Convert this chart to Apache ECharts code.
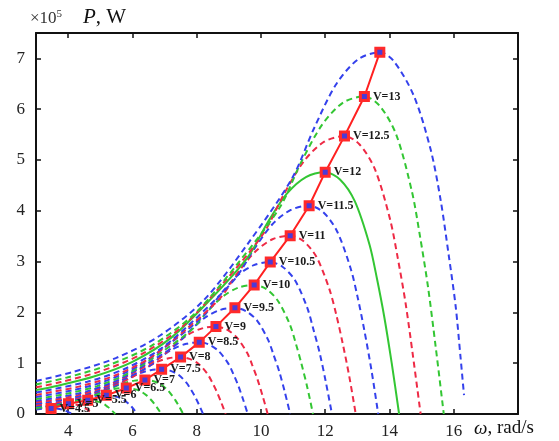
<!DOCTYPE html>
<html><head><meta charset="utf-8">
<script src="https://cdn.jsdelivr.net/npm/echarts@6/dist/echarts.min.js"></script>
<style>html,body{margin:0;padding:0;background:#fff}#c{width:559px;height:441px}</style>
</head><body><div id="c"></div>
<script>
// Wind speeds (m/s) of each power curve
const windSpeeds = [4.5, 5, 5.5, 6, 6.5, 7, 7.5, 8, 8.5, 9, 9.5, 10, 10.5, 11, 11.5, 12, 12.5, 13, 13.5];
// Maximum power points (red line): omega (rad/s) and P (x10^5 W)
const mpptOmega = [3.47, 4.01, 4.61, 5.19, 5.81, 6.39, 6.91, 7.50, 8.08, 8.60, 9.19, 9.79, 10.29, 10.91, 11.50, 12.00, 12.60, 13.22, 13.70];
const mpptPower = [0.11, 0.20, 0.27, 0.37, 0.51, 0.67, 0.88, 1.12, 1.41, 1.72, 2.09, 2.54, 2.99, 3.51, 4.10, 4.76, 5.47, 6.25, 7.12];
// Tick labels
const xTicks = [4, 6, 8, 10, 12, 14, 16];
const yTicks = [0, 1, 2, 3, 4, 5, 6, 7];

// Power curves [omega, P]
const curveV45 = [[3,0.09],[3.12,0.10],[3.30,0.108],[3.47,0.11],[3.60,0.107],[3.73,0.097],[3.86,0.077],[3.93,0.062],[3.99,0.044],[4.06,0.023],[4.12,0]];
const curveV5 = [[3,0.109],[3.21,0.13],[3.41,0.158],[3.61,0.182],[3.81,0.196],[4.01,0.20],[4.16,0.194],[4.31,0.176],[4.46,0.14],[4.54,0.112],[4.61,0.08],[4.69,0.042],[4.76,0]];
const curveV55 = [[3,0.106],[3.23,0.127],[3.46,0.149],[3.69,0.176],[3.92,0.213],[4.15,0.246],[4.38,0.265],[4.61,0.27],[4.78,0.262],[4.95,0.238],[5.13,0.189],[5.21,0.151],[5.30,0.108],[5.38,0.057],[5.47,0]];
const curveV6 = [[3,0.107],[3.11,0.117],[3.63,0.174],[4.15,0.24],[4.41,0.292],[4.67,0.337],[4.93,0.363],[5.19,0.37],[5.38,0.359],[5.58,0.326],[5.77,0.259],[5.87,0.207],[5.97,0.148],[6.06,0.078],[6.16,0]];
const curveV65 = [[3,0.117],[3.49,0.161],[4.07,0.24],[4.65,0.33],[4.94,0.40],[5.23,0.464],[5.52,0.50],[5.81,0.51],[6.03,0.495],[6.25,0.449],[6.46,0.357],[6.57,0.286],[6.68,0.204],[6.79,0.107],[6.90,0]];
const curveV7 = [[3,0.13],[3.20,0.145],[3.83,0.211],[4.47,0.315],[5.11,0.436],[5.43,0.529],[5.75,0.61],[6.07,0.657],[6.39,0.67],[6.63,0.65],[6.87,0.59],[7.10,0.469],[7.22,0.375],[7.34,0.268],[7.46,0.141],[7.58,0]];
const curveV75 = [[3,0.153],[3.46,0.19],[4.15,0.277],[4.84,0.414],[5.53,0.572],[5.87,0.695],[6.22,0.80],[6.56,0.862],[6.91,0.88],[7.17,0.854],[7.43,0.774],[7.68,0.616],[7.81,0.493],[7.94,0.352],[8.07,0.185],[8.20,0]];
const curveV8 = [[3,0.174],[3.75,0.242],[4.5,0.353],[5.25,0.526],[6.0,0.728],[6.38,0.885],[6.75,1.02],[7.13,1.098],[7.5,1.12],[7.78,1.086],[8.06,0.986],[8.34,0.784],[8.48,0.627],[8.62,0.448],[8.76,0.235],[8.90,0]];
const curveV85 = [[3,0.20],[3.23,0.219],[4.04,0.305],[4.85,0.444],[5.66,0.663],[6.46,0.917],[6.87,1.114],[7.27,1.283],[7.68,1.382],[8.08,1.41],[8.38,1.368],[8.68,1.241],[8.99,0.987],[9.14,0.79],[9.29,0.564],[9.44,0.296],[9.59,0]];
const curveV9 = [[3,0.232],[3.44,0.267],[4.30,0.372],[5.16,0.542],[6.02,0.808],[6.88,1.118],[7.31,1.359],[7.74,1.565],[8.17,1.686],[8.60,1.72],[8.92,1.668],[9.24,1.514],[9.57,1.204],[9.73,0.963],[9.89,0.688],[10.05,0.361],[10.21,0]];
const curveV95 = [[3,0.26],[3.68,0.324],[4.60,0.451],[5.51,0.658],[6.43,0.982],[7.35,1.359],[7.81,1.651],[8.27,1.902],[8.73,2.048],[9.19,2.09],[9.53,2.027],[9.88,1.839],[10.22,1.463],[10.39,1.17],[10.57,0.836],[10.74,0.439],[10.91,0]];
const curveV10 = [[3,0.297],[3.92,0.394],[4.90,0.549],[5.87,0.80],[6.85,1.194],[7.83,1.651],[8.32,2.007],[8.81,2.311],[9.30,2.489],[9.79,2.54],[10.16,2.464],[10.52,2.235],[10.89,1.778],[11.07,1.422],[11.25,1.016],[11.44,0.533],[11.62,0]];
const curveV105 = [[3,0.335],[4.12,0.463],[5.15,0.646],[6.17,0.942],[7.20,1.405],[8.23,1.944],[8.75,2.362],[9.26,2.721],[9.78,2.93],[10.29,2.99],[10.67,2.90],[11.06,2.631],[11.44,2.093],[11.63,1.674],[11.83,1.196],[12.02,0.628],[12.21,0]];
const curveV11 = [[3,0.376],[4.36,0.544],[5.46,0.758],[6.55,1.106],[7.64,1.65],[8.73,2.282],[9.27,2.773],[9.82,3.194],[10.36,3.44],[10.91,3.51],[11.32,3.405],[11.73,3.089],[12.13,2.457],[12.34,1.966],[12.54,1.404],[12.75,0.737],[12.95,0]];
const curveV115 = [[3,0.422],[4.60,0.636],[5.75,0.886],[6.90,1.292],[8.05,1.927],[9.20,2.665],[9.78,3.239],[10.35,3.731],[10.93,4.018],[11.50,4.10],[11.93,3.977],[12.36,3.608],[12.79,2.87],[13.01,2.296],[13.22,1.64],[13.44,0.861],[13.65,0]];
const curveV12 = [[3,0.471],[3.6,0.547],[4.8,0.738],[6.0,1.028],[7.2,1.499],[8.4,2.237],[9.6,3.094],[10.2,3.76],[10.8,4.332],[11.4,4.665],[12,4.76],[12.46,4.617],[12.92,4.189],[13.38,3.332],[13.61,2.666],[13.84,1.904],[14.07,1.0],[14.30,0]];
const curveV125 = [[3,0.525],[3.78,0.629],[5.04,0.848],[6.30,1.182],[7.56,1.723],[8.82,2.571],[10.08,3.556],[10.71,4.321],[11.34,4.978],[11.97,5.361],[12.60,5.47],[13.07,5.306],[13.55,4.814],[14.02,3.829],[14.26,3.063],[14.50,2.188],[14.73,1.149],[14.97,0]];
const curveV13 = [[3,0.58],[3.97,0.72],[5.29,0.97],[6.61,1.35],[7.93,1.97],[9.25,2.94],[10.58,4.06],[11.24,4.94],[11.90,5.69],[12.56,6.13],[13.22,6.25],[13.70,6.063],[14.21,5.50],[14.70,4.375],[14.95,3.50],[15.20,2.50],[15.44,1.313],[15.69,0]];
const curveV135 = [[3,0.65],[4.11,0.82],[5.48,1.10],[6.85,1.54],[8.22,2.24],[9.59,3.35],[10.96,4.63],[11.65,5.62],[12.33,6.48],[13.02,6.98],[13.70,7.12],[14.13,6.95],[14.76,6.26],[15.28,5.21],[15.59,4.22],[15.85,3.10],[16.06,2.12],[16.21,1.13],[16.32,0.37]];

const curves = [curveV45, curveV5, curveV55, curveV6, curveV65, curveV7, curveV75, curveV8, curveV85, curveV9, curveV95,
  curveV10, curveV105, curveV11, curveV115, curveV12, curveV125, curveV13, curveV135];

// styles
const B = '#3441ec', G = '#33c633', R = '#ee2a45';
const curveColors = [B, R, G, B, G, G, B, R, B, R, B, G, B, R, B, G, R, G, B];
const solidIndex = 15; // V = 12

const chart = echarts.init(document.getElementById('c'), null, {renderer: 'canvas'});
const serif = 'Liberation Serif, Times New Roman, serif';

function axisBase(extra) {
  return Object.assign({
    axisLine: {show: true, onZero: false, lineStyle: {color: '#111', width: 2}},
    splitLine: {show: false},
  }, extra);
}

const series = curves.map((c, i) => ({
  type: 'line',
  data: c,
  showSymbol: false,
  smooth: 0.3,
  silent: true,
  z: 2,
  lineStyle: {color: curveColors[i], width: 2, type: i === solidIndex ? 'solid' : [6, 4]}
}));

series.push({
  type: 'line',
  data: mpptOmega.map((w, i) => [w, mpptPower[i]]),
  z: 5,
  symbol: 'rect',
  symbolSize: 8,
  lineStyle: {color: '#ff2020', width: 2},
  itemStyle: {color: '#4a3ad8', borderColor: '#ff2a2a', borderWidth: 3},
  label: {
    show: true,
    position: 'right',
    distance: 3,
    fontFamily: serif,
    fontWeight: 'bold',
    fontSize: 12,
    color: '#1a1a1a',
    formatter: p => p.dataIndex === windSpeeds.length - 1 ? '' : 'V=' + windSpeeds[p.dataIndex]
  }
});

chart.setOption({
  animation: false,
  backgroundColor: '#fff',
  grid: {left: 36, right: 41, top: 33, bottom: 27, containLabel: false},
  xAxis: [
    axisBase({type: 'value', min: 3, max: 18, position: 'bottom',
      axisTick: {show: true, inside: true, length: 5, lineStyle: {color: '#111', width: 1.5}, customValues: xTicks},
      axisLabel: {show: true, customValues: xTicks, fontFamily: serif, fontSize: 17, color: '#222', margin: 9}}),
    axisBase({type: 'value', min: 3, max: 18, position: 'top',
      axisTick: {show: true, inside: true, length: 5, lineStyle: {color: '#111', width: 1.5}, customValues: xTicks},
      axisLabel: {show: false}})
  ],
  yAxis: [
    axisBase({type: 'value', min: 0, max: 7.5, position: 'left',
      axisTick: {show: true, inside: true, length: 5, lineStyle: {color: '#111', width: 1.5}, customValues: yTicks},
      axisLabel: {show: true, customValues: yTicks, fontFamily: serif, fontSize: 17, color: '#222', margin: 11}}),
    axisBase({type: 'value', min: 0, max: 7.5, position: 'right',
      axisTick: {show: true, inside: true, length: 5, lineStyle: {color: '#111', width: 1.5}, customValues: yTicks},
      axisLabel: {show: false}})
  ],
  graphic: [
    {type: 'text', left: 30, top: 9, style: {
      text: '{a|×10}{s|5}', rich: {
        a: {fontFamily: serif, fontSize: 17, fill: '#333'},
        s: {fontFamily: serif, fontSize: 11, fill: '#333', verticalAlign: 'top', padding: [0, 0, 9, 0]}
      }}},
    {type: 'text', left: 83, top: 7, style: {
      text: '{i|P}{n|, W}', rich: {
        i: {fontFamily: serif, fontSize: 21, fontStyle: 'italic', fill: '#111'},
        n: {fontFamily: serif, fontSize: 21, fill: '#111'}
      }}},
    {type: 'text', left: 474, top: 419, style: {
      text: '{i|ω}{n|, rad/s}', rich: {
        i: {fontFamily: serif, fontSize: 19, fontStyle: 'italic', fill: '#111'},
        n: {fontFamily: serif, fontSize: 19, fill: '#111'}
      }}}
  ],
  series: series
});
</script>
</body></html>
